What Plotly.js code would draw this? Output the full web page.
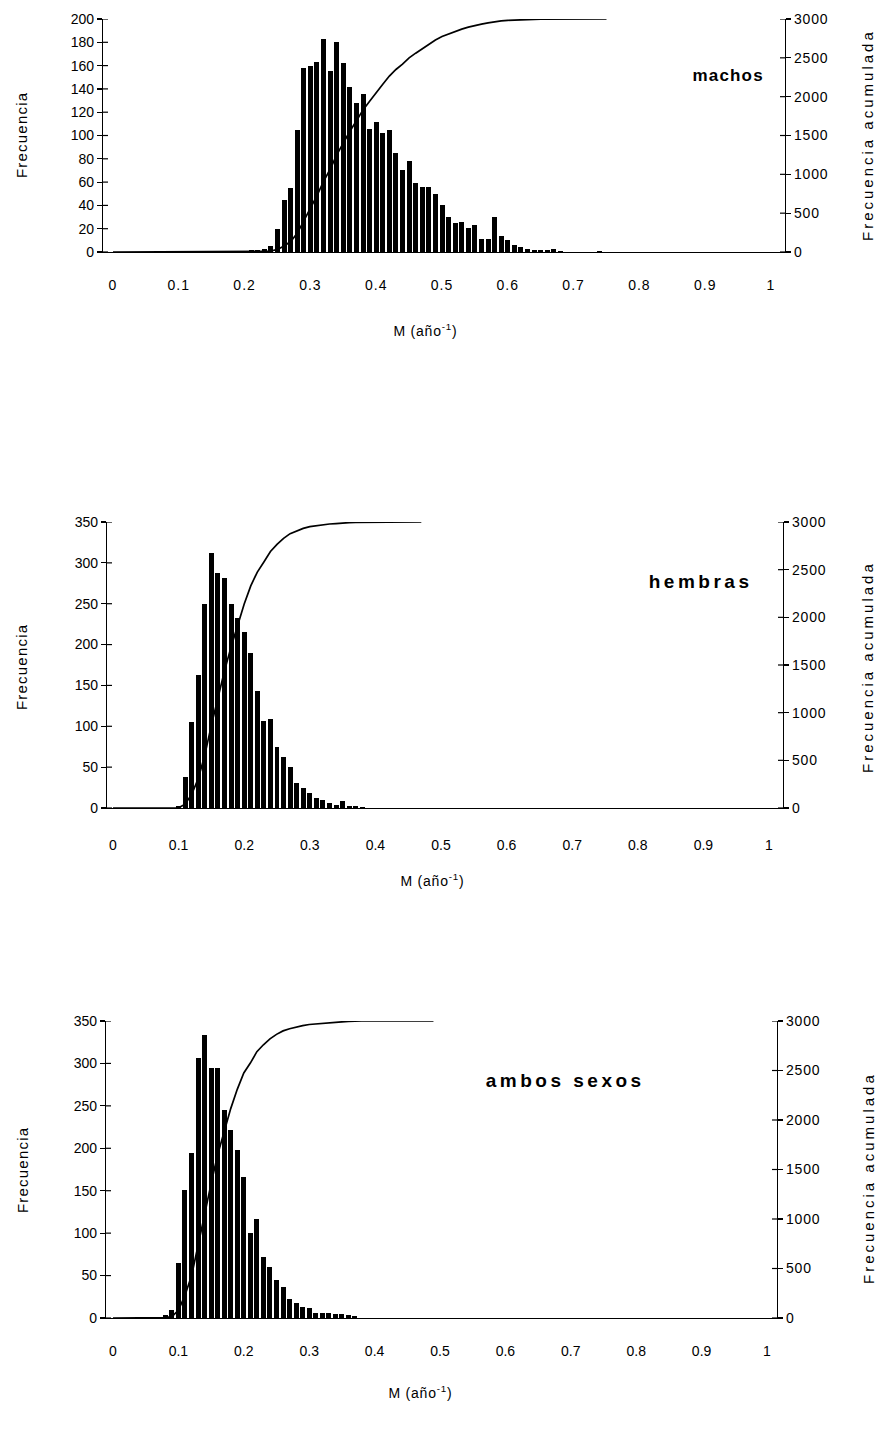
<!DOCTYPE html>
<html>
<head>
<meta charset="utf-8">
<script src="https://cdn.plot.ly/plotly-3.0.1.min.js"></script>
<style>
html,body{margin:0;padding:0;background:#fff;}
#chart{width:886px;height:1432px;}
.xtick text{letter-spacing:1px;}
.y2tick text,.y4tick text,.y6tick text{letter-spacing:0.8px;}
</style>
</head>
<body>
<div id="chart"></div>
<script>
// ---------- DATA ----------
const xTickVals = [0, 0.1, 0.2, 0.3, 0.4, 0.5, 0.6, 0.7, 0.8, 0.9, 1];
const xTickText = ["0", "0.1", "0.2", "0.3", "0.4", "0.5", "0.6", "0.7", "0.8", "0.9", "1"];
const leftTicks200 = [0, 20, 40, 60, 80, 100, 120, 140, 160, 180, 200];
const leftTicks350 = [0, 50, 100, 150, 200, 250, 300, 350];
const rightTicks = [0, 500, 1000, 1500, 2000, 2500, 3000];

// machos: frequency histogram (bin centre M, count)
const machosM = [0.20,0.21,0.22,0.23,0.24,0.25,0.26,0.27,0.28,0.29,0.30,0.31,0.32,0.33,0.34,0.35,0.36,0.37,0.38,0.39,
  0.40,0.41,0.42,0.43,0.44,0.45,0.46,0.47,0.48,0.49,0.50,0.51,0.52,0.53,0.54,0.55,0.56,0.57,0.58,0.59,
  0.60,0.61,0.62,0.63,0.64,0.65,0.66,0.67,0.68,0.74];
const machosFreq = [1,2,2,3,5,20,45,55,105,158,160,163,183,155,180,162,142,128,136,106,
  112,102,105,85,70,78,59,56,56,50,40,30,25,26,21,23,11,11,30,14,
  10,6,4,3,2,2,2,3,1,1];
// machos: cumulative frequency line
const machosCumM = [0.00,0.19,0.20,0.21,0.22,0.23,0.24,0.25,0.26,0.27,0.28,0.29,0.30,0.31,0.32,0.33,0.34,0.35,0.36,0.37,0.38,0.39,
  0.40,0.41,0.42,0.43,0.44,0.45,0.46,0.47,0.48,0.49,0.50,0.51,0.52,0.53,0.54,0.55,0.56,0.57,0.58,0.59,
  0.60,0.61,0.62,0.63,0.64,0.65,0.66,0.67,0.68,0.75];
const machosCum = [0,0,1,3,5,8,13,33,78,135,240,400,560,725,910,1065,1250,1410,1555,1690,1830,1940,
  2055,2160,2265,2350,2420,2500,2560,2620,2680,2730,2775,2810,2840,2870,2895,2920,2935,2950,2965,2975,
  2983,2988,2992,2995,2996,2997,2998,2999,3000,3000];

// hembras
const hembrasM = [0.10,0.11,0.12,0.13,0.14,0.15,0.16,0.17,0.18,0.19,0.20,0.21,0.22,0.23,0.24,0.25,0.26,0.27,0.28,0.29,
  0.30,0.31,0.32,0.33,0.34,0.35,0.36,0.37,0.38];
const hembrasFreq = [2,38,105,163,250,312,288,282,250,232,215,190,143,107,109,75,62,50,30,25,
  18,12,10,6,4,8,3,2,1];
const hembrasCumM = [0.00,0.09,0.10,0.11,0.12,0.13,0.14,0.15,0.16,0.17,0.18,0.19,0.20,0.21,0.22,0.23,0.24,0.25,0.26,0.27,0.28,0.29,
  0.30,0.31,0.32,0.33,0.34,0.35,0.36,0.37,0.38,0.39,0.40,0.41,0.47];
const hembrasCum = [0,0,2,40,145,308,558,870,1160,1440,1690,1925,2140,2330,2475,2580,2690,2765,2828,2878,2908,2933,
  2951,2963,2973,2979,2983,2991,2994,2996,2997,2998,2999,3000,3000];

// ambos sexos
const ambosM = [0.08,0.09,0.10,0.11,0.12,0.13,0.14,0.15,0.16,0.17,0.18,0.19,0.20,0.21,0.22,0.23,0.24,0.25,0.26,0.27,
  0.28,0.29,0.30,0.31,0.32,0.33,0.34,0.35,0.36,0.37];
const ambosFreq = [3,10,65,151,195,306,333,295,295,245,222,198,166,100,117,72,60,45,36,22,
  18,13,12,6,6,6,5,5,4,2];
const ambosCumM = [0.00,0.07,0.08,0.09,0.10,0.11,0.12,0.13,0.14,0.15,0.16,0.17,0.18,0.19,0.20,0.21,0.22,0.23,0.24,0.25,0.26,0.27,
  0.28,0.29,0.30,0.31,0.32,0.33,0.34,0.35,0.36,0.37,0.38,0.49];
const ambosCum = [0,0,3,13,78,229,424,730,1063,1358,1650,1895,2115,2310,2475,2575,2690,2760,2820,2865,2900,2922,
  2940,2953,2965,2971,2977,2983,2988,2993,2997,2999,3000,3000];

const panelLabels = ["machos", "hembras", "ambos sexos"];
const yLeftTitle = "Frecuencia";
const yRightTitle = "Frecuencia acumulada";
const xTitle = "M (año<sup>-1</sup>)";

// ---------- LAYOUT HELPERS ----------
const W = 886, H = 1432;
const FONT = "Liberation Sans, Arial, sans-serif";
const px = v => v / W;
const py = v => 1 - v / H;

function xAxis(l, r, zeroPx, onePx, anchor, standoff) {
  const per = onePx - zeroPx;
  return {
    domain: [px(l), px(r)],
    range: [(l - zeroPx) / per, (r - zeroPx) / per],
    anchor: anchor,
    tickmode: "array", tickvals: xTickVals, ticktext: xTickText,
    ticks: "outside", ticklen: standoff, tickcolor: "rgba(0,0,0,0)",
    showline: true, linecolor: "#000", linewidth: 1.2,
    showgrid: false, zeroline: false,
    tickfont: {family: FONT, size: 14, color: "#000"}
  };
}
function yAxis(top, bottom, ticks, anchor, side, overlay) {
  const a = {
    domain: [py(bottom), py(top)],
    range: [0, ticks[ticks.length - 1]],
    tickmode: "array", tickvals: ticks,
    anchor: anchor, side: side,
    ticks: "outside", ticklen: 5, tickcolor: "#000", tickwidth: 1.2,
    showline: true, linecolor: "#000", linewidth: 1.2,
    showgrid: false, zeroline: false,
    tickfont: {family: FONT, size: 14, color: "#000"}
  };
  if (overlay) a.overlaying = overlay;
  return a;
}

function bars(x, y, xa, ya) {
  return {type: "bar", x: x, y: y, xaxis: xa, yaxis: ya, width: 0.0076,
    marker: {color: "#000", line: {width: 0}}, hoverinfo: "x+y"};
}
function cumLine(x, y, xa, ya) {
  return {type: "scatter", mode: "lines", x: x, y: y, xaxis: xa, yaxis: ya,
    line: {color: "#000", width: 1.7}, hoverinfo: "x+y"};
}

const data = [
  bars(machosM, machosFreq, "x", "y"),
  cumLine(machosCumM, machosCum, "x", "y2"),
  bars(hembrasM, hembrasFreq, "x2", "y3"),
  cumLine(hembrasCumM, hembrasCum, "x2", "y4"),
  bars(ambosM, ambosFreq, "x3", "y5"),
  cumLine(ambosCumM, ambosCum, "x3", "y6")
];

function ann(text, x, y, opts) {
  return Object.assign({text: text, x: px(x), y: py(y), xref: "paper", yref: "paper",
    showarrow: false, xanchor: "center", yanchor: "middle",
    font: {family: FONT, size: 14, color: "#000"}}, opts || {});
}
const titleFont = {family: FONT, size: 15, color: "#000"};
const labelFontS = {family: FONT, size: 17, color: "#000"};
const labelFontL = {family: FONT, size: 19, color: "#000"};

const layout = {
  width: W, height: H,
  margin: {l: 0, r: 0, t: 0, b: 0},
  paper_bgcolor: "#fff", plot_bgcolor: "rgba(0,0,0,0)",
  showlegend: false, bargap: 0,
  xaxis: xAxis(103, 785, 113, 771, "y", 20),
  yaxis: yAxis(19, 252, leftTicks200, "x", "left"),
  yaxis2: yAxis(19, 252, rightTicks, "x", "right", "y"),
  xaxis2: xAxis(107, 783, 113, 769, "y3", 24),
  yaxis3: yAxis(522, 808, leftTicks350, "x2", "left"),
  yaxis4: yAxis(522, 808, rightTicks, "x2", "right", "y3"),
  xaxis3: xAxis(106, 777, 113, 767, "y5", 20),
  yaxis5: yAxis(1021, 1318, leftTicks350, "x3", "left"),
  yaxis6: yAxis(1021, 1318, rightTicks, "x3", "right", "y5"),
  annotations: [
    ann(yLeftTitle, 22, 135, {textangle: -90, font: titleFont}),
    ann(yRightTitle, 868, 135, {textangle: -90, font: titleFont}),
    ann(xTitle, 425, 330),
    ann("<b>" + panelLabels[0] + "</b>", 728, 75, {font: labelFontS}),

    ann(yLeftTitle, 22, 667, {textangle: -90, font: titleFont}),
    ann(yRightTitle, 868, 667, {textangle: -90, font: titleFont}),
    ann(xTitle, 432, 880),
    ann("<b>" + panelLabels[1] + "</b>", 700, 581, {font: labelFontL}),

    ann(yLeftTitle, 22, 1170, {textangle: -90, font: titleFont}),
    ann(yRightTitle, 868, 1178, {textangle: -90, font: titleFont}),
    ann(xTitle, 420, 1392),
    ann("<b>" + panelLabels[2] + "</b>", 565, 1080, {font: labelFontL})
  ],
  shapes: []
};

// inner half of the cross-shaped tick marks on both value axes
function crossTicks(xa, ya, ticks, side) {
  const ax = layout[xa === "x" ? "xaxis" : "xaxis" + xa.slice(1)];
  ticks.forEach(function (v) {
    layout.shapes.push({
      type: "line", xref: xa, yref: ya, xsizemode: "pixel",
      xanchor: side === "left" ? ax.range[0] : ax.range[1],
      x0: 0, x1: side === "left" ? 5 : -5, y0: v, y1: v,
      line: {color: "#000", width: 1.2}
    });
  });
}
crossTicks("x", "y", leftTicks200, "left");
crossTicks("x", "y2", rightTicks, "right");
crossTicks("x2", "y3", leftTicks350, "left");
crossTicks("x2", "y4", rightTicks, "right");
crossTicks("x3", "y5", leftTicks350, "left");
crossTicks("x3", "y6", rightTicks, "right");

// letter spacing per annotation (the scanned figure uses widely spaced type)
const spacing = [1.2, 3, 0.8, 1.2, 1.2, 3, 0.8, 3.5, 1.2, 3, 0.8, 3.5];

Plotly.newPlot("chart", data, layout, {displayModeBar: false, staticPlot: true}).then(function () {
  document.querySelectorAll("g.annotation").forEach(function (g) {
    const i = +g.getAttribute("data-index");
    g.querySelectorAll("text").forEach(function (t) {
      t.style.letterSpacing = spacing[i] + "px";
    });
  });
});
</script>
</body>
</html>
